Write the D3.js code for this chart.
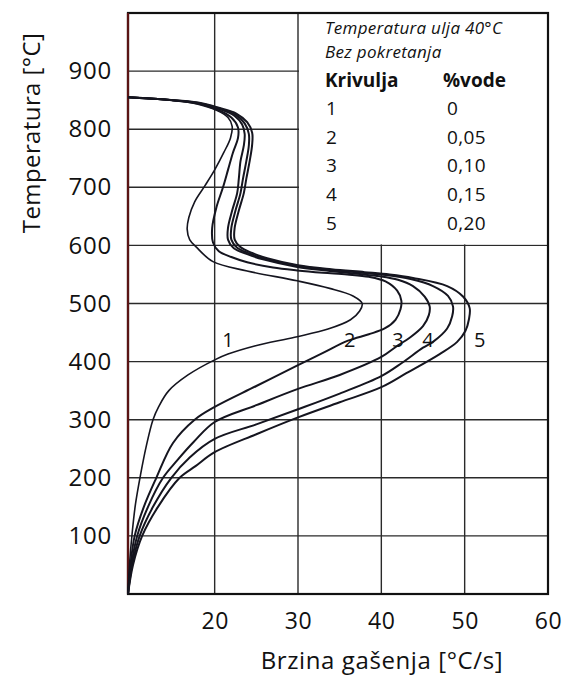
<!DOCTYPE html>
<html>
<head>
<meta charset="utf-8">
<script src="https://cdn.jsdelivr.net/npm/d3@7"></script>
<style>
  body { margin: 0; background: #fff; }
  svg text { font-family: "Open Sans", sans-serif; fill: #111; }
</style>
</head>
<body>
<svg id="chart" width="568" height="680"></svg>
<script>
// quench rate [°C/s] vs temperature [°C]
const curve1 = [[9.6,855],[14,851],[18,843],[20.3,832],[21.6,820],[22.1,805],[21.9,785],[21.1,760],[20,730],[18.8,702],[17.6,675],[16.9,648],[16.7,628],[17,610],[17.8,597],[19.8,572],[23.9,556],[29.9,539],[33.8,526],[36.6,513],[37.7,500],[37.4,487],[36.3,472],[33.6,456],[29.6,442],[24.8,427],[21.6,413],[20,403],[16.8,377],[14.5,350],[13.3,323],[12.6,300],[11.8,255],[11.1,205],[10.5,155],[10.1,105],[9.8,55],[9.6,0]];
const curve2 = [[9.6,855],[14,851],[18,844],[20.4,833],[22,820],[22.8,803],[22.8,785],[22.2,760],[21.6,730],[21,700],[20.2,665],[19.7,630],[19.8,605],[20.5,590],[22,580],[23.9,571],[27,562],[29.9,557],[33,553],[35.9,550],[38.5,546],[40.5,538],[41.9,522],[42.4,505],[42.3,490],[41.7,472],[40.4,457],[38.5,447],[36,436],[33,415],[30,394],[25,358],[20,322],[17.6,300],[15,260],[13,200],[11.5,150],[10.4,100],[9.9,50],[9.6,0]];
const curve3 = [[9.6,855],[14,851],[18,845],[20.5,835],[22.4,823],[23.3,808],[23.6,792],[23.5,772],[23.1,745],[22.9,715],[22.7,690],[22.1,660],[21.6,630],[21.6,610],[22.3,595],[23.9,585],[25.8,576],[29.9,563],[33.8,556],[37,551],[39.8,547],[42,541],[43.8,530],[45.2,512],[45.8,495],[45.7,480],[45,461],[43.4,441],[42,428],[40,408],[35,377],[30,353],[25,325],[20,296],[17.5,262],[15.5,230],[13.8,200],[12,150],[10.7,100],[10,50],[9.6,0]];
const curve4 = [[9.6,855],[14,851],[18,845],[20.5,836],[22.5,825],[23.6,810],[24.1,792],[24.1,772],[23.8,745],[23.4,715],[23.1,690],[22.5,660],[22,630],[22,610],[22.7,596],[24.2,586],[26,577],[29.9,565],[33.8,558],[37.5,553],[40.5,549],[43.5,542],[46.2,530],[48,513],[48.6,495],[48.5,478],[47.9,457],[46.2,434],[45,424],[42.5,398],[40,375],[35,345],[30,318],[25,292],[20,267],[17,235],[14.8,200],[12.6,150],[11,100],[10.1,50],[9.6,0]];
const curve5 = [[9.6,855],[14,851],[18,846],[20.5,837],[22.6,827],[23.9,812],[24.5,794],[24.5,774],[24.2,745],[23.8,715],[23.5,690],[22.9,660],[22.4,630],[22.4,610],[23.1,597],[24.5,587],[26.3,578],[30,566],[34,559],[38,554],[41,550],[43.8,544],[47.9,530],[49.8,512],[50.6,492],[50.5,472],[50.1,453],[49.1,434],[47,413],[43,380],[40,356],[35,330],[30,304],[25,275],[20,244],[17.7,220],[15.8,200],[13.2,150],[11.3,100],[10.2,50],[9.6,0]];

const curves = [curve1, curve2, curve3, curve4, curve5];
const curveNames = ["1", "2", "3", "4", "5"];
// where the curve numbers sit on the plot (rate, temperature)
const labelPos = [[21.6,437],[36.2,437],[42,437],[45.6,437],[51.8,437]];

const waterPct = ["0", "0,05", "0,10", "0,15", "0,20"];
const xTicks = [20, 30, 40, 50, 60];
const yTicks = [100, 200, 300, 400, 500, 600, 700, 800, 900];

const svg = d3.select("#chart");

const x = d3.scaleLinear().domain([9.6, 60]).range([128, 548]);
const y = d3.scaleLinear().domain([0, 1000]).range([594, 13]);

// grid
const grid = svg.append("g");
grid.selectAll("line.v")
  .data(xTicks.slice(0, -1))
  .enter().append("line")
    .attr("x1", d => x(d)).attr("x2", d => x(d))
    .attr("y1", y(1000)).attr("y2", y(0))
    .attr("stroke", "#2a2a2a").attr("stroke-width", 1.4);
grid.selectAll("line.h")
  .data(yTicks)
  .enter().append("line")
    .attr("x1", x(9.6)).attr("x2", x(60))
    .attr("y1", d => y(d)).attr("y2", d => y(d))
    .attr("stroke", "#2a2a2a").attr("stroke-width", 1.4);

// legend area hides the grid in the top right corner
svg.append("rect")
  .attr("x", x(30) + 1)
  .attr("y", y(1000))
  .attr("width", x(60) - x(30) - 1)
  .attr("height", y(600) - y(1000) - 1)
  .attr("fill", "#fff");

// frame
svg.append("rect")
  .attr("x", x(9.6)).attr("y", y(1000))
  .attr("width", x(60) - x(9.6)).attr("height", y(0) - y(1000))
  .attr("fill", "none").attr("stroke", "#111").attr("stroke-width", 2.2);
svg.append("line")
  .attr("x1", x(9.6)).attr("x2", x(9.6))
  .attr("y1", y(1000)).attr("y2", y(0))
  .attr("stroke", "#5a1414").attr("stroke-width", 2.2);

// axes (labels only)
const yAxis = svg.append("g")
  .attr("transform", `translate(${x(9.6)},0)`)
  .call(d3.axisLeft(y).tickValues(yTicks).tickSize(0).tickPadding(16));
yAxis.select(".domain").remove();
yAxis.selectAll("text").style("font-size", "24px").style("letter-spacing", "0.8px").attr("fill", "#111");

const xAxis = svg.append("g")
  .attr("transform", `translate(0,${y(0)})`)
  .call(d3.axisBottom(x).tickValues(xTicks).tickSize(0).tickPadding(19));
xAxis.select(".domain").remove();
xAxis.selectAll("text").style("font-size", "23px").style("letter-spacing", "0.6px").attr("fill", "#111");

svg.append("text")
  .attr("x", 382).attr("y", 669)
  .attr("text-anchor", "middle")
  .style("font-size", "24px")
  .style("letter-spacing", "0.6px")
  .text("Brzina gašenja [°C/s]");

svg.append("text")
  .attr("transform", "translate(40,133) rotate(-90)")
  .attr("text-anchor", "middle")
  .style("font-size", "24px")
  .style("letter-spacing", "0.4px")
  .text("Temperatura [°C]");

// curves
const line = d3.line()
  .x(d => x(d[0]))
  .y(d => y(d[1]))
  .curve(d3.curveCatmullRom.alpha(0.5));

svg.append("g")
  .selectAll("path")
  .data(curves)
  .enter().append("path")
    .attr("d", line)
    .attr("fill", "none")
    .attr("stroke", "#15151f")
    .attr("stroke-width", (d, i) => i === 0 ? 1.6 : 2);

svg.append("g")
  .selectAll("text")
  .data(labelPos)
  .enter().append("text")
    .attr("x", d => x(d[0]))
    .attr("y", d => y(d[1]))
    .attr("text-anchor", "middle")
    .attr("dy", "0.35em")
    .style("font-size", "20px")
    .text((d, i) => curveNames[i]);

// legend
const legend = svg.append("g");
legend.append("text")
  .attr("x", 325).attr("y", 34)
  .style("font-size", "17px").style("font-style", "italic")
  .style("letter-spacing", "0.3px")
  .text("Temperatura ulja 40°C");
legend.append("text")
  .attr("x", 325).attr("y", 58)
  .style("font-size", "17px").style("font-style", "italic")
  .style("letter-spacing", "0.3px")
  .text("Bez pokretanja");
legend.append("text")
  .attr("x", 325).attr("y", 87)
  .style("font-size", "19px").style("font-weight", "bold")
  .text("Krivulja");
legend.append("text")
  .attr("x", 443).attr("y", 87)
  .style("font-size", "19px").style("font-weight", "bold")
  .text("%vode");

const rows = legend.selectAll("g.row")
  .data(curveNames)
  .enter().append("g")
    .attr("transform", (d, i) => `translate(0,${115 + i * 28.7})`);
rows.append("text")
  .attr("x", 326)
  .style("font-size", "19px")
  .text(d => d);
rows.append("text")
  .attr("x", 447)
  .style("font-size", "19px")
  .style("letter-spacing", "0.4px")
  .text((d, i) => waterPct[i]);
</script>
</body>
</html>
